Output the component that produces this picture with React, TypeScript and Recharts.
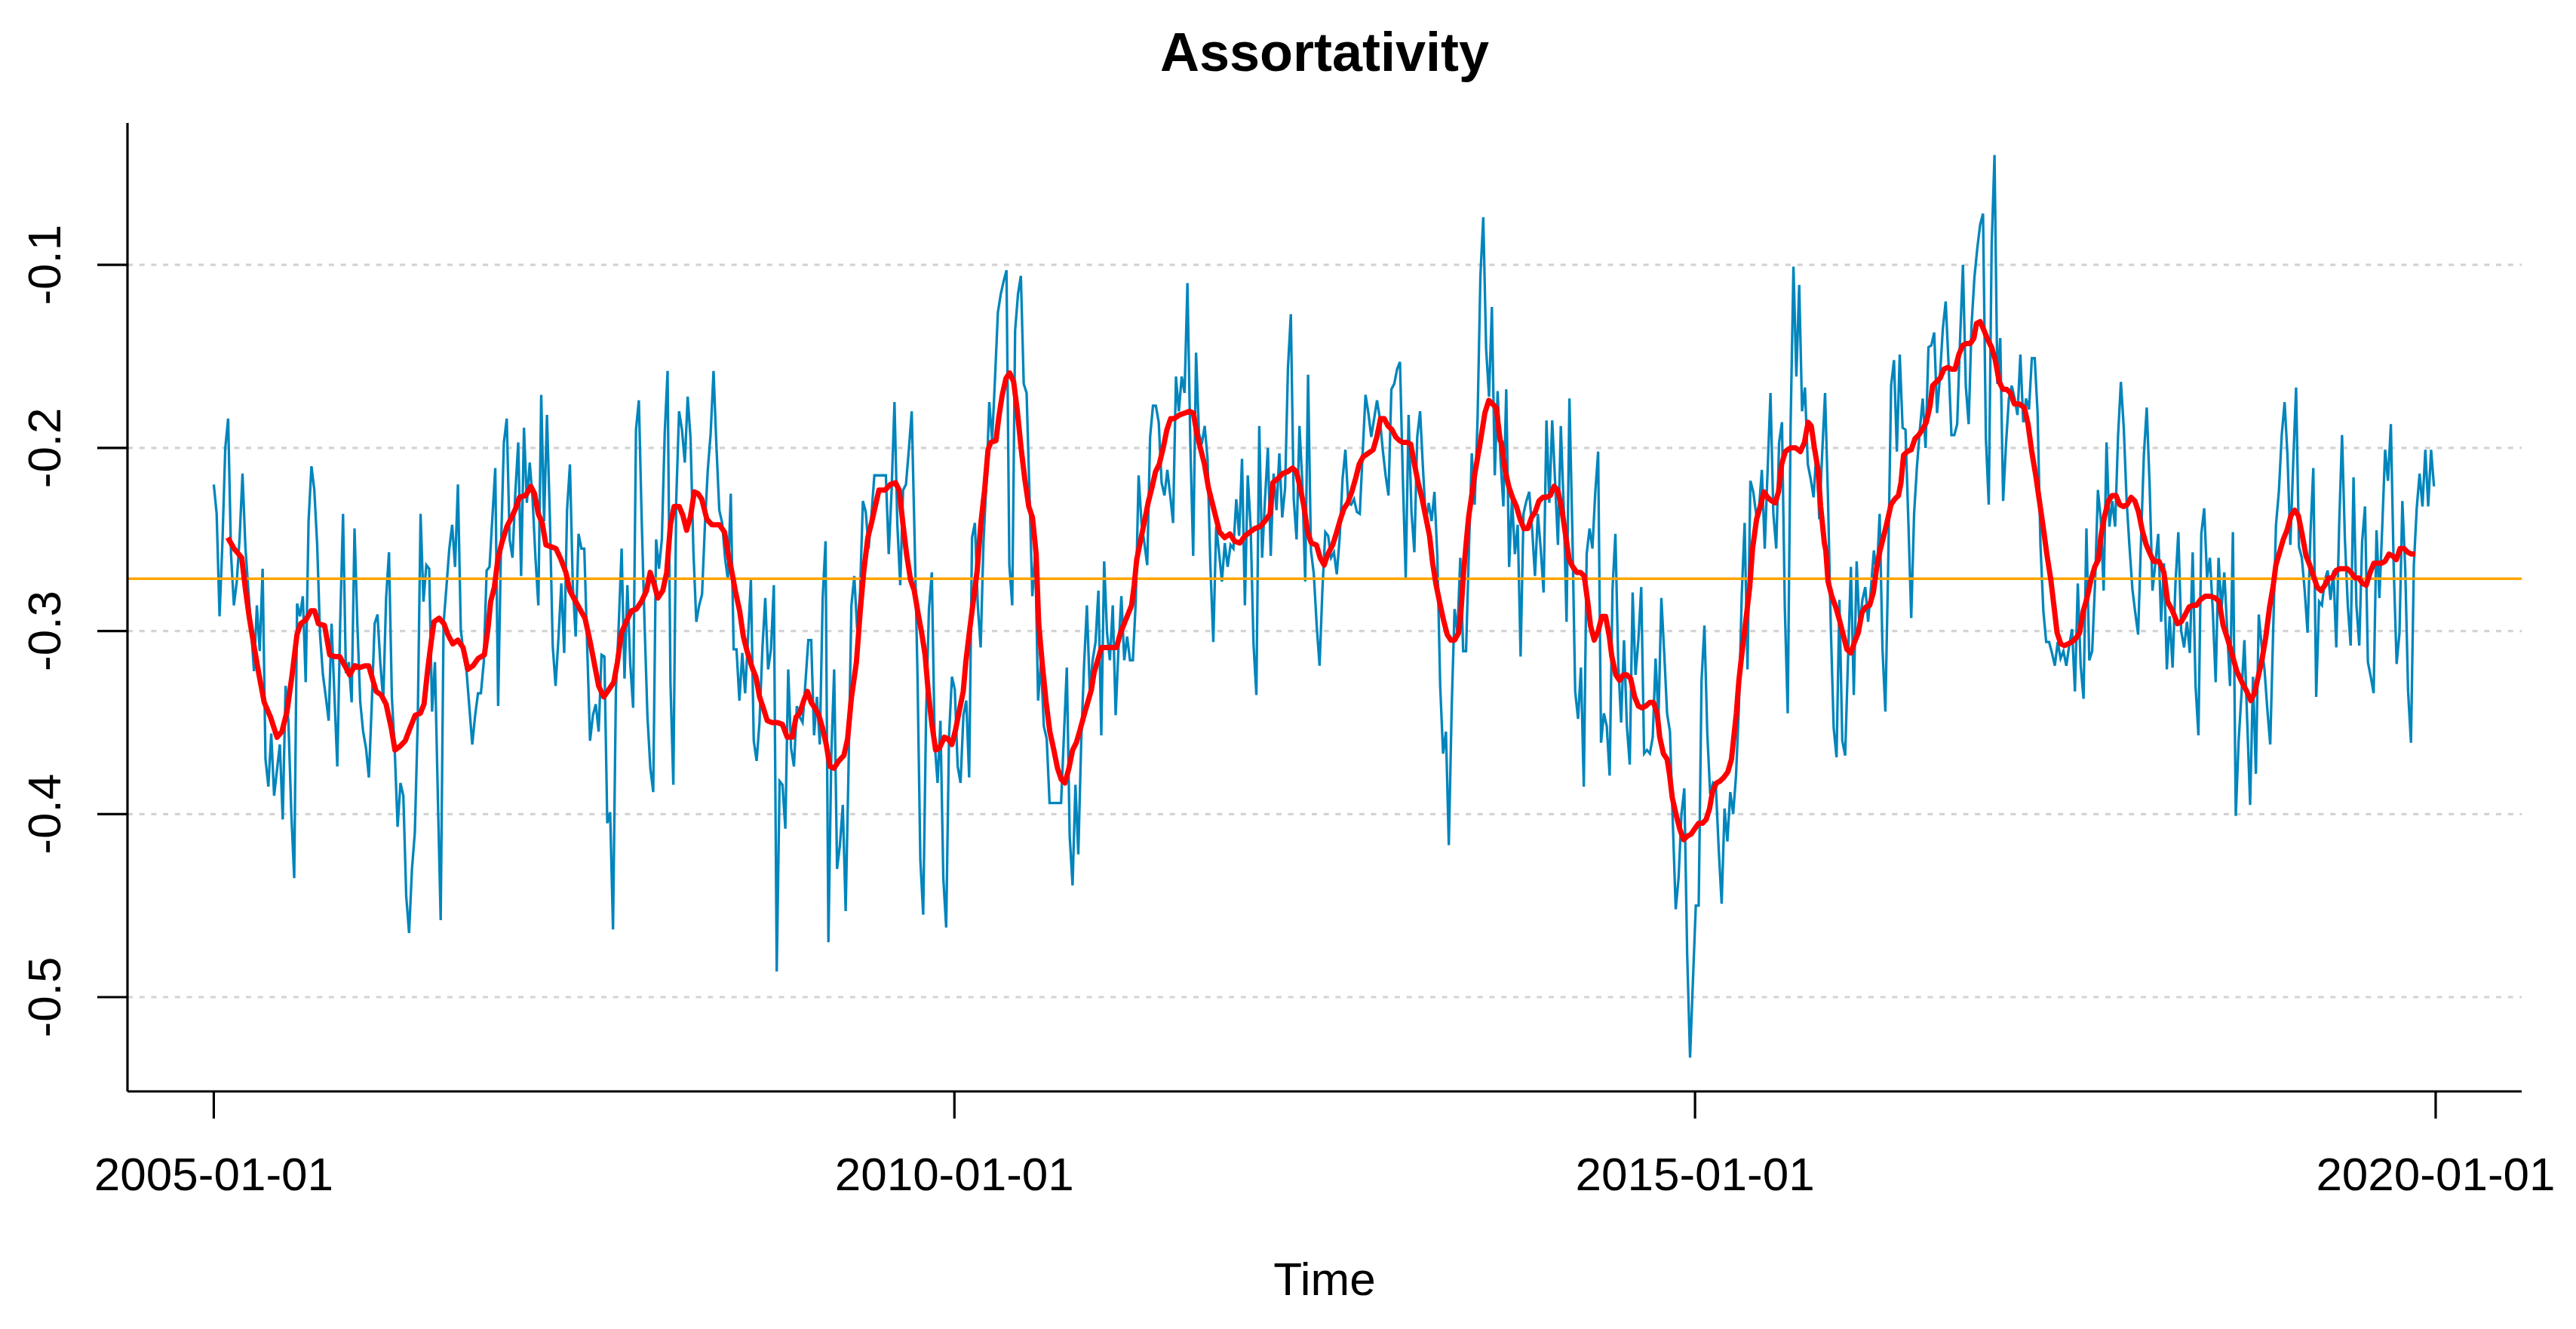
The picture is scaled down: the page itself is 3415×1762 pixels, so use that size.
import { LineChart, Line, XAxis, YAxis, ReferenceLine } from 'recharts';

// weekly assortativity
const blue2005to2007 = [
  -0.22, -0.236, -0.292, -0.252, -0.2, -0.184, -0.258, -0.286, -0.273, -0.249,
  -0.214, -0.254, -0.277, -0.299, -0.322, -0.286, -0.311, -0.266, -0.37, -0.385,
  -0.356, -0.39, -0.376, -0.362, -0.403, -0.33, -0.35, -0.4, -0.435, -0.285,
  -0.292, -0.281, -0.328, -0.24, -0.21, -0.223, -0.253, -0.302, -0.324, -0.336,
  -0.349, -0.296, -0.335, -0.374, -0.296, -0.236, -0.323, -0.317, -0.339, -0.244,
  -0.297, -0.339, -0.355, -0.364, -0.38, -0.34, -0.296, -0.291, -0.318, -0.338,
  -0.282, -0.257, -0.336, -0.365, -0.407, -0.383, -0.39, -0.445, -0.465, -0.43,
  -0.41, -0.35, -0.236, -0.284, -0.264, -0.266, -0.344, -0.317, -0.39, -0.458,
  -0.296, -0.276, -0.255, -0.242, -0.265, -0.22, -0.299, -0.313, -0.322, -0.342,
  -0.362, -0.346, -0.334, -0.334, -0.317, -0.267, -0.265, -0.238, -0.211, -0.341,
  -0.254, -0.197, -0.184, -0.25, -0.26, -0.224, -0.197, -0.27, -0.189,
];
const blue2007to2009 = [
  -0.23, -0.208, -0.228, -0.26, -0.286, -0.171, -0.24, -0.182, -0.237, -0.308,
  -0.33, -0.304, -0.274, -0.312, -0.234, -0.209, -0.275, -0.303, -0.247, -0.255,
  -0.255, -0.308, -0.36, -0.346, -0.34, -0.355, -0.313, -0.314, -0.405, -0.399,
  -0.463, -0.333, -0.296, -0.255, -0.326, -0.275, -0.318, -0.342, -0.19, -0.174,
  -0.24, -0.297, -0.347, -0.375, -0.388, -0.25, -0.266, -0.25, -0.192, -0.158,
  -0.328, -0.384, -0.229, -0.18, -0.19, -0.208, -0.172, -0.195, -0.257, -0.295,
  -0.286, -0.28, -0.242, -0.212, -0.192, -0.158, -0.199, -0.234, -0.241, -0.26,
  -0.272, -0.225, -0.31, -0.31, -0.338, -0.312, -0.334, -0.304, -0.272, -0.36,
  -0.371, -0.35, -0.31, -0.282, -0.321, -0.31, -0.275, -0.486, -0.382, -0.384,
  -0.408, -0.321, -0.364, -0.374, -0.341, -0.347, -0.35, -0.328, -0.305, -0.305,
  -0.357, -0.336, -0.362, -0.282, -0.251, -0.47, -0.368, -0.321, -0.43, -0.417,
  -0.395, -0.453, -0.375, -0.286,
];
const blue2009to2011 = [
  -0.27, -0.299, -0.28, -0.229, -0.235, -0.255, -0.236, -0.215, -0.215, -0.215,
  -0.215, -0.215, -0.258, -0.223, -0.175, -0.242, -0.275, -0.223, -0.22, -0.201,
  -0.18, -0.249, -0.323, -0.425, -0.455, -0.346, -0.288, -0.268, -0.361, -0.383,
  -0.349, -0.435, -0.462, -0.357, -0.325, -0.332, -0.374, -0.383, -0.346, -0.338,
  -0.38, -0.249, -0.241, -0.286, -0.309, -0.251, -0.219, -0.175, -0.196, -0.162,
  -0.126, -0.116, -0.109, -0.103, -0.264, -0.286, -0.136, -0.116, -0.106, -0.165,
  -0.17, -0.225, -0.281, -0.257, -0.338, -0.317, -0.352, -0.359, -0.394, -0.394,
  -0.394, -0.394, -0.394, -0.357, -0.32, -0.412, -0.439, -0.384, -0.422, -0.361,
  -0.319, -0.286, -0.333, -0.316, -0.306, -0.278, -0.357, -0.262, -0.301, -0.316,
  -0.286, -0.346, -0.309, -0.281, -0.316, -0.303, -0.316, -0.316, -0.284, -0.215,
  -0.241, -0.252, -0.264, -0.194, -0.177, -0.177, -0.186, -0.219, -0.226, -0.212,
  -0.226, -0.241, -0.161,
];
const blue2011to2013 = [
  -0.18, -0.161, -0.17, -0.11, -0.197, -0.259, -0.148, -0.192, -0.198, -0.188,
  -0.206, -0.265, -0.306, -0.243, -0.257, -0.273, -0.252, -0.265, -0.253, -0.255,
  -0.228, -0.248, -0.206, -0.286, -0.215, -0.243, -0.307, -0.335, -0.188, -0.26,
  -0.228, -0.2, -0.259, -0.214, -0.234, -0.203, -0.238, -0.222, -0.156, -0.127,
  -0.228, -0.25, -0.188, -0.219, -0.273, -0.16, -0.256, -0.269, -0.297, -0.319,
  -0.277, -0.246, -0.248, -0.26, -0.257, -0.269, -0.249, -0.217, -0.201, -0.23,
  -0.231, -0.228, -0.235, -0.236, -0.203, -0.171, -0.181, -0.194, -0.184, -0.174,
  -0.184, -0.201, -0.215, -0.226, -0.168, -0.165, -0.157, -0.153, -0.217, -0.271,
  -0.182, -0.235, -0.257, -0.194, -0.18, -0.211, -0.24, -0.23, -0.24, -0.224,
  -0.259, -0.33, -0.367, -0.355, -0.417, -0.342, -0.288, -0.301, -0.26, -0.311,
  -0.311, -0.256, -0.203, -0.231, -0.185, -0.106, -0.074, -0.146, -0.172, -0.123,
  -0.215, -0.169, -0.206,
];
const blue2013to2015 = [
  -0.232, -0.168, -0.265, -0.227, -0.258, -0.242, -0.314, -0.236, -0.229, -0.224,
  -0.244, -0.27, -0.236, -0.255, -0.279, -0.185, -0.23, -0.185, -0.218, -0.253,
  -0.188, -0.232, -0.295, -0.173, -0.244, -0.333, -0.348, -0.32, -0.385, -0.258,
  -0.244, -0.255, -0.224, -0.202, -0.361, -0.345, -0.352, -0.379, -0.277, -0.247,
  -0.318, -0.35, -0.305, -0.352, -0.373, -0.279, -0.324, -0.305, -0.276, -0.367,
  -0.365, -0.367, -0.358, -0.315, -0.348, -0.282, -0.312, -0.345, -0.355, -0.405,
  -0.452, -0.435, -0.4, -0.386, -0.477, -0.533, -0.491, -0.45, -0.45, -0.327,
  -0.297, -0.356, -0.389, -0.383, -0.385, -0.42, -0.449, -0.397, -0.415, -0.388,
  -0.4, -0.379, -0.342, -0.28, -0.241, -0.321, -0.218, -0.224, -0.236, -0.233,
  -0.212, -0.255, -0.212, -0.17, -0.236, -0.255, -0.197, -0.186, -0.288, -0.345,
  -0.188, -0.101, -0.161, -0.111, -0.18, -0.167, -0.209, -0.217, -0.227, -0.202,
  -0.239, -0.203, -0.17,
];
const blue2015to2017 = [
  -0.226, -0.298, -0.353, -0.369, -0.283, -0.36, -0.368, -0.315, -0.265, -0.335,
  -0.262, -0.299, -0.283, -0.276, -0.295, -0.276, -0.256, -0.27, -0.236, -0.31,
  -0.344, -0.262, -0.166, -0.152, -0.202, -0.149, -0.189, -0.19, -0.24, -0.293,
  -0.236, -0.21, -0.19, -0.173, -0.2, -0.145, -0.144, -0.137, -0.181, -0.161,
  -0.135, -0.12, -0.154, -0.193, -0.193, -0.187, -0.141, -0.1, -0.166, -0.187,
  -0.133, -0.107, -0.091, -0.078, -0.072, -0.195, -0.231, -0.09, -0.04, -0.165,
  -0.14, -0.229, -0.198, -0.173, -0.166, -0.173, -0.182, -0.149, -0.186, -0.173,
  -0.179, -0.151, -0.151, -0.181, -0.253, -0.289, -0.306, -0.306, -0.312, -0.319,
  -0.306, -0.315, -0.311, -0.319, -0.308, -0.299, -0.333, -0.274, -0.319, -0.337,
  -0.244, -0.316, -0.311, -0.274, -0.223, -0.239, -0.278, -0.197, -0.243, -0.229,
  -0.243, -0.194, -0.164, -0.189, -0.229, -0.254, -0.277, -0.29, -0.302, -0.251,
  -0.204, -0.178, -0.22,
];
const blue2017to2019 = [
  -0.278, -0.263, -0.247, -0.295, -0.263, -0.321, -0.292, -0.32, -0.274, -0.246,
  -0.3, -0.309, -0.295, -0.312, -0.257, -0.33, -0.357, -0.247, -0.233, -0.271,
  -0.26, -0.289, -0.328, -0.26, -0.289, -0.268, -0.299, -0.33, -0.246, -0.401,
  -0.36, -0.334, -0.305, -0.35, -0.395, -0.325, -0.378, -0.291, -0.308, -0.321,
  -0.343, -0.362, -0.301, -0.242, -0.224, -0.193, -0.175, -0.204, -0.253, -0.208,
  -0.167, -0.254, -0.26, -0.278, -0.301, -0.247, -0.211, -0.336, -0.284, -0.286,
  -0.272, -0.267, -0.283, -0.267, -0.309, -0.242, -0.193, -0.25, -0.286, -0.308,
  -0.216, -0.286, -0.308, -0.251, -0.232, -0.317, -0.325, -0.334, -0.245, -0.282,
  -0.243, -0.201, -0.218, -0.187, -0.266, -0.318, -0.301, -0.229, -0.266, -0.333,
  -0.361, -0.264, -0.233, -0.214, -0.232, -0.201, -0.232, -0.201, -0.221,
];

// smoothed series, [weeks since 2005-01-01, value]
const redSmooth: [number, number][] = [
  [4.9, -0.249], [7.1, -0.255], [9.8, -0.26], [11.1, -0.277], [12.4, -0.292], [14.2, -0.309], [16.0, -0.325], [17.7, -0.339],
  [19.9, -0.347], [22.2, -0.358], [23.9, -0.355], [25.7, -0.344], [27.4, -0.325], [29.2, -0.302], [30.5, -0.296], [32.3, -0.294],
  [34.1, -0.289], [35.4, -0.289], [36.7, -0.296], [38.9, -0.297], [40.7, -0.313], [42.5, -0.314], [44.2, -0.314], [46.0, -0.319],
  [47.7, -0.324], [49.5, -0.319], [51.3, -0.32], [53.0, -0.319], [54.4, -0.319], [55.7, -0.326], [57.0, -0.333], [58.8, -0.335],
  [60.5, -0.34], [62.3, -0.353], [63.6, -0.365], [65.4, -0.363], [67.2, -0.36], [68.9, -0.353], [70.7, -0.346], [72.5, -0.345],
  [73.8, -0.34], [75.1, -0.321], [76.4, -0.305], [77.3, -0.295], [79.1, -0.293], [80.8, -0.296], [82.2, -0.302], [83.9, -0.307],
  [85.7, -0.305], [87.5, -0.309], [89.2, -0.321], [91.0, -0.319], [92.8, -0.315], [95.0, -0.313], [96.3, -0.298], [97.2, -0.284],
  [98.5, -0.276], [99.8, -0.26], [101.1, -0.252], [102.9, -0.243], [104.2, -0.239], [106.0, -0.233], [107.3, -0.227], [109.5, -0.226],
  [111.3, -0.221], [112.6, -0.225], [113.9, -0.236], [115.3, -0.241], [116.6, -0.253], [118.4, -0.254], [120.1, -0.255], [121.9, -0.261],
  [123.6, -0.268], [125.0, -0.278], [126.7, -0.283], [128.5, -0.288], [130.3, -0.293], [132.0, -0.305], [133.5, -0.317], [135.1, -0.33],
  [136.9, -0.336], [138.7, -0.332], [140.4, -0.328], [141.7, -0.317], [143.1, -0.301], [144.8, -0.295], [146.6, -0.289], [148.4, -0.288],
  [150.1, -0.284], [151.9, -0.278], [153.2, -0.268], [154.5, -0.274], [155.9, -0.282], [157.6, -0.278], [159.0, -0.268], [160.3, -0.242],
  [161.6, -0.232], [163.4, -0.232], [164.7, -0.237], [166.0, -0.245], [167.4, -0.237], [168.7, -0.224], [170.0, -0.225], [171.3, -0.228],
  [173.1, -0.239], [174.9, -0.242], [177.5, -0.242], [179.3, -0.246], [180.6, -0.258], [181.9, -0.268], [183.2, -0.279], [184.6, -0.289],
  [185.9, -0.303], [187.2, -0.311], [189.0, -0.32], [190.3, -0.325], [191.6, -0.336], [192.9, -0.342], [194.3, -0.349], [196.0, -0.35],
  [197.8, -0.35], [199.6, -0.351], [201.3, -0.358], [203.1, -0.358], [204.4, -0.347], [205.7, -0.345], [207.1, -0.338], [208.4, -0.333],
  [209.7, -0.339], [211.0, -0.342], [212.4, -0.346], [213.7, -0.353], [215.0, -0.362], [216.3, -0.374], [217.7, -0.375], [219.4, -0.371],
  [221.2, -0.368], [222.5, -0.359], [223.8, -0.337], [225.6, -0.317], [226.9, -0.29], [228.2, -0.267], [229.6, -0.249], [230.9, -0.241],
  [232.2, -0.232], [233.5, -0.223], [235.7, -0.223], [237.5, -0.22], [239.3, -0.219], [240.6, -0.223], [241.9, -0.241], [243.2, -0.258],
  [244.6, -0.272], [245.9, -0.278], [247.2, -0.29], [248.5, -0.301], [249.7, -0.313], [250.8, -0.333], [252.1, -0.351], [253.4, -0.365],
  [254.7, -0.364], [256.5, -0.358], [257.8, -0.359], [259.1, -0.362], [260.4, -0.354], [261.8, -0.343], [263.1, -0.333], [264.0, -0.317],
  [265.3, -0.3], [266.6, -0.284], [268.0, -0.267], [269.3, -0.241], [270.6, -0.223], [271.8, -0.201], [272.8, -0.197], [274.6, -0.196],
  [275.6, -0.183], [276.8, -0.171], [278.1, -0.162], [279.4, -0.159], [280.8, -0.164], [282.1, -0.18], [283.4, -0.2], [284.7, -0.217],
  [286.1, -0.232], [287.4, -0.238], [288.7, -0.258], [289.6, -0.296], [290.9, -0.319], [292.2, -0.339], [293.5, -0.355], [294.9, -0.365],
  [296.2, -0.375], [297.5, -0.381], [298.8, -0.383], [300.2, -0.375], [301.5, -0.365], [302.8, -0.361], [304.1, -0.354], [305.5, -0.346],
  [306.8, -0.339], [308.1, -0.332], [309.0, -0.323], [310.3, -0.316], [311.6, -0.309], [313.4, -0.309], [315.2, -0.309], [316.9, -0.309],
  [318.3, -0.301], [319.6, -0.296], [320.9, -0.291], [322.2, -0.286], [323.1, -0.275], [324.0, -0.261], [325.3, -0.251], [326.6, -0.241],
  [328.0, -0.23], [329.3, -0.222], [330.6, -0.213], [331.9, -0.209], [333.3, -0.2], [334.6, -0.19], [335.9, -0.184], [337.2, -0.184],
  [339.0, -0.182], [340.8, -0.181], [342.5, -0.18], [343.9, -0.181], [345.2, -0.193], [346.5, -0.201], [347.8, -0.209], [349.2, -0.222],
  [350.5, -0.23], [351.8, -0.238], [353.1, -0.246], [354.9, -0.249], [356.7, -0.247], [358.4, -0.251], [360.2, -0.252], [362.0, -0.248],
  [363.7, -0.246], [365.5, -0.244], [367.3, -0.243], [369.0, -0.24], [370.8, -0.236], [371.8, -0.219], [373.4, -0.217], [375.2, -0.214],
  [377.0, -0.213], [378.7, -0.211], [380.1, -0.213], [381.4, -0.222], [382.7, -0.232], [384.0, -0.246], [385.3, -0.252], [387.1, -0.253],
  [388.4, -0.26], [389.8, -0.264], [391.1, -0.258], [392.8, -0.253], [394.2, -0.246], [395.5, -0.239], [396.8, -0.233], [398.1, -0.23],
  [399.5, -0.224], [400.8, -0.217], [402.1, -0.209], [403.4, -0.205], [405.2, -0.203], [407.0, -0.201], [408.3, -0.194], [409.6, -0.184],
  [410.9, -0.184], [412.2, -0.188], [413.6, -0.19], [414.9, -0.194], [416.2, -0.196], [417.5, -0.197], [418.9, -0.197], [420.2, -0.198],
  [421.5, -0.209], [422.8, -0.219], [424.2, -0.228], [425.5, -0.238], [426.8, -0.248], [427.9, -0.263], [429.0, -0.274], [430.3, -0.284],
  [431.7, -0.294], [433.0, -0.302], [434.3, -0.305], [435.6, -0.305], [437.0, -0.301], [437.8, -0.29], [438.7, -0.269], [439.6, -0.253],
  [440.5, -0.238], [441.8, -0.224], [442.7, -0.214], [443.6, -0.206], [444.9, -0.194], [446.2, -0.181], [447.6, -0.174], [448.9, -0.176],
  [450.2, -0.178], [451.6, -0.196], [452.0, -0.197], [453.3, -0.212], [454.6, -0.221], [455.9, -0.227], [457.3, -0.232], [458.6, -0.239],
  [459.9, -0.244], [461.3, -0.244], [462.6, -0.238], [463.9, -0.235], [465.2, -0.229], [466.6, -0.227], [467.9, -0.227], [469.2, -0.226],
  [470.5, -0.221], [471.8, -0.223], [473.2, -0.233], [474.5, -0.247], [475.8, -0.261], [477.1, -0.265], [478.5, -0.268], [479.8, -0.268],
  [481.1, -0.27], [482.4, -0.285], [483.3, -0.297], [484.6, -0.305], [486.0, -0.3], [487.3, -0.292], [488.6, -0.292], [489.9, -0.303],
  [490.8, -0.314], [492.2, -0.324], [493.5, -0.327], [494.8, -0.324], [496.1, -0.324], [497.4, -0.326], [498.8, -0.336], [500.1, -0.341],
  [501.4, -0.342], [502.7, -0.341], [504.1, -0.339], [505.4, -0.339], [506.7, -0.345], [507.6, -0.358], [508.9, -0.367], [510.2, -0.37],
  [511.1, -0.379], [512.0, -0.391], [513.3, -0.4], [514.6, -0.408], [516.0, -0.414], [517.3, -0.412], [518.6, -0.411], [519.9, -0.408],
  [521.3, -0.405], [522.6, -0.405], [523.9, -0.403], [525.1, -0.397], [526.1, -0.388], [527.5, -0.383], [528.8, -0.382], [530.1, -0.38],
  [531.5, -0.377], [532.8, -0.37], [533.6, -0.358], [534.5, -0.345], [535.4, -0.327], [536.7, -0.309], [538.0, -0.292], [539.2, -0.276],
  [540.2, -0.255], [541.6, -0.239], [542.9, -0.232], [544.2, -0.224], [545.5, -0.227], [546.9, -0.229], [548.2, -0.23], [549.3, -0.224],
  [550.4, -0.209], [551.7, -0.202], [553.5, -0.2], [555.3, -0.2], [557.0, -0.202], [558.4, -0.197], [559.7, -0.186], [560.8, -0.188],
  [561.9, -0.2], [563.2, -0.212], [564.1, -0.232], [565.4, -0.252], [565.9, -0.256], [566.7, -0.273], [568.0, -0.281], [569.4, -0.287],
  [570.7, -0.294], [572.0, -0.302], [573.3, -0.31], [574.7, -0.312], [576.0, -0.306], [577.3, -0.301], [578.6, -0.29], [579.9, -0.287],
  [581.3, -0.286], [582.6, -0.279], [583.7, -0.266], [584.8, -0.257], [586.1, -0.249], [587.5, -0.24], [588.8, -0.231], [590.1, -0.228],
  [591.4, -0.226], [592.3, -0.219], [593.2, -0.204], [594.5, -0.202], [595.9, -0.201], [597.2, -0.195], [598.5, -0.193], [599.8, -0.19],
  [601.2, -0.186], [602.5, -0.177], [603.4, -0.166], [604.7, -0.164], [606.0, -0.162], [607.4, -0.157], [608.7, -0.156], [610.0, -0.157],
  [611.3, -0.157], [612.6, -0.149], [614.0, -0.144], [615.3, -0.143], [616.6, -0.143], [617.9, -0.14], [618.8, -0.132], [620.1, -0.131],
  [621.5, -0.136], [622.8, -0.141], [624.1, -0.145], [625.4, -0.152], [626.8, -0.164], [628.1, -0.168], [629.4, -0.168], [630.7, -0.17],
  [632.1, -0.176], [633.8, -0.176], [635.6, -0.178], [636.9, -0.187], [638.2, -0.202], [639.6, -0.215], [640.9, -0.229], [642.2, -0.243],
  [643.5, -0.258], [644.9, -0.272], [646.2, -0.289], [647.1, -0.301], [648.4, -0.307], [649.7, -0.308], [651.0, -0.307], [652.3, -0.306],
  [653.7, -0.304], [655.0, -0.301], [656.3, -0.289], [657.6, -0.282], [659.0, -0.272], [660.3, -0.265], [661.6, -0.261], [662.5, -0.248],
  [663.8, -0.237], [665.1, -0.229], [666.4, -0.226], [667.8, -0.226], [669.1, -0.231], [670.4, -0.232], [671.7, -0.231], [673.1, -0.227],
  [674.4, -0.229], [675.7, -0.235], [677.0, -0.245], [678.4, -0.253], [679.5, -0.257], [681.0, -0.262], [682.9, -0.262], [684.6, -0.268],
  [685.9, -0.284], [687.6, -0.289], [689.4, -0.296], [690.7, -0.295], [692.1, -0.291], [693.4, -0.287], [694.7, -0.286], [696.0, -0.286],
  [697.4, -0.283], [699.1, -0.281], [700.9, -0.281], [702.7, -0.282], [704.0, -0.284], [705.4, -0.297], [707.1, -0.305], [708.4, -0.312],
  [710.2, -0.322], [712.0, -0.328], [713.7, -0.333], [715.1, -0.338], [716.4, -0.334], [717.7, -0.325], [719.0, -0.316], [720.3, -0.304],
  [721.7, -0.287], [723.0, -0.275], [723.9, -0.264], [725.2, -0.257], [726.5, -0.25], [727.8, -0.245], [729.2, -0.237], [730.5, -0.234],
  [731.8, -0.237], [733.1, -0.247], [734.5, -0.259], [735.8, -0.264], [737.1, -0.27], [738.4, -0.276], [739.8, -0.278], [741.1, -0.275],
  [742.4, -0.271], [743.7, -0.271], [745.0, -0.267], [746.4, -0.266], [747.7, -0.266], [749.0, -0.266], [750.3, -0.268], [751.7, -0.271],
  [753.0, -0.271], [754.3, -0.274], [755.6, -0.275], [757.0, -0.268], [758.3, -0.263], [759.6, -0.263], [760.9, -0.263], [762.2, -0.262],
  [763.6, -0.258], [764.9, -0.259], [766.2, -0.261], [767.5, -0.255], [768.9, -0.255], [770.2, -0.257], [771.5, -0.258], [772.8, -0.258],
];

const meanLevel = -0.2714;
const xTickWeeks = [0, 260, 520, 780];
const xTickLabels = ['2005-01-01', '2010-01-01', '2015-01-01', '2020-01-01'];
const yTicks = [-0.5, -0.4, -0.3, -0.2, -0.1];

const LAST_WEEK = 779.4; // last weekly observation, weeks after 2005-01-01
const FONT = '"Liberation Sans", Arial, sans-serif';

const blueValues = [
  ...blue2005to2007, ...blue2007to2009, ...blue2009to2011, ...blue2011to2013,
  ...blue2013to2015, ...blue2015to2017, ...blue2017to2019,
];
const blueData = blueValues.map((value, i) => ({ week: (i * LAST_WEEK) / (blueValues.length - 1), value }));
const redData = redSmooth.map(([week, value]) => ({ week, value }));

const XTick = (props: any) => {
  const idx = xTickWeeks.indexOf(props.payload.value);
  return (
    <text x={props.x} y={1578} textAnchor="middle" fontSize={62} fontFamily={FONT} fill="#000">
      {xTickLabels[idx]}
    </text>
  );
};

const YTick = (props: any) => (
  <text x={80} y={props.y} transform={`rotate(-90 80 ${props.y})`} textAnchor="middle" fontSize={62} fontFamily={FONT} fill="#000">
    {props.payload.value.toFixed(1)}
  </text>
);

export default function App() {
  const axisStroke = { stroke: '#000', strokeWidth: 3.2 };
  return (
    <div style={{ position: 'absolute', left: 0, top: 0, width: 3415, height: 1762, background: '#fff' }}>
      <LineChart width={3415} height={1762} margin={{ top: 163, right: 72, bottom: 0, left: 0 }}>
        <XAxis
          type="number"
          dataKey="week"
          domain={[-30.3, 810.2]}
          allowDataOverflow
          ticks={xTickWeeks}
          interval={0}
          height={315}
          tickSize={36}
          axisLine={axisStroke}
          tickLine={axisStroke}
          tick={XTick}
        />
        <YAxis
          type="number"
          domain={[-0.5515, -0.0225]}
          allowDataOverflow
          ticks={yTicks}
          interval={0}
          width={169}
          tickSize={40}
          axisLine={axisStroke}
          tickLine={axisStroke}
          tick={YTick}
        />
        {/* dotted grid only at the labelled y values, like grid() in R */}
        {yTicks.map((v) => (
          <ReferenceLine key={v} y={v} stroke="#d3d3d3" strokeWidth={3.2} strokeDasharray="7 8.7" />
        ))}
        <Line data={blueData} dataKey="value" type="linear" stroke="#0085bc" strokeWidth={3.3} dot={false} isAnimationActive={false} />
        <ReferenceLine y={meanLevel} stroke="#ffa500" strokeWidth={3.5} />
        <Line data={redData} dataKey="value" type="linear" stroke="#ff0000" strokeWidth={7} strokeLinejoin="round" dot={false} isAnimationActive={false} />
      </LineChart>
      <svg width={3415} height={1762} style={{ position: 'absolute', left: 0, top: 0, pointerEvents: 'none' }}>
        <text x={1756} y={94} textAnchor="middle" fontSize={72} fontWeight="bold" fontFamily={FONT} fill="#000">
          Assortativity
        </text>
        <text x={1756} y={1717} textAnchor="middle" fontSize={62} fontFamily={FONT} fill="#000">
          Time
        </text>
      </svg>
    </div>
  );
}
